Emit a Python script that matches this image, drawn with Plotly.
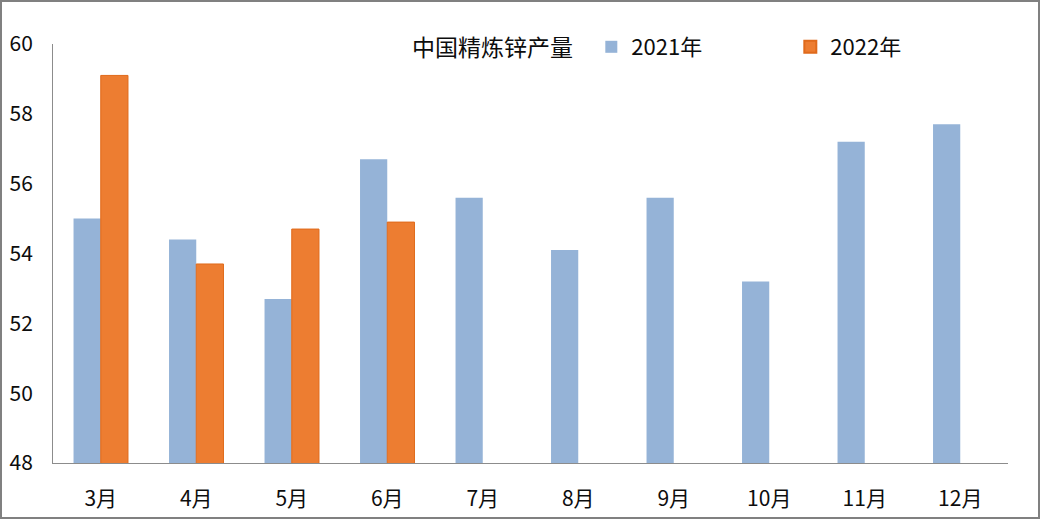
import plotly.graph_objects as go

months = ["3月", "4月", "5月", "6月", "7月", "8月", "9月", "10月", "11月", "12月"]
v2021 = [55.0, 54.4, 52.7, 56.7, 55.6, 54.1, 55.6, 53.2, 57.2, 57.7]
months2022 = ["3月", "4月", "5月", "6月"]
v2022 = [59.1, 53.7, 54.7, 54.9]
yticks = [48, 50, 52, 54, 56, 58, 60]

W, H = 1040, 519
L, R, T, B = 53, 32, 44, 56
pw, ph = W - L - R, H - T - B

fig = go.Figure()
fig.add_trace(go.Bar(name="2021年", x=months, y=v2021, marker=dict(color="#95B3D7", line=dict(width=0))))
fig.add_trace(go.Bar(name="2022年", x=months2022, y=v2022, marker=dict(color="#ED7D31", line=dict(color="#E06A1B", width=1))))

font = "Noto Sans CJK SC, Microsoft YaHei, sans-serif"
fig.update_layout(
    width=W, height=H,
    margin=dict(l=L, r=R, t=T, b=B, pad=0, autoexpand=False),
    paper_bgcolor="white", plot_bgcolor="white",
    barmode="group", bargap=0.43, bargroupgap=0,
    font=dict(family=font, size=21, color="#0d0d0d"),
    showlegend=True,
    legend=dict(
        orientation="h", x=(410 - L) / pw, xanchor="left", y=(H - B - 47) / ph, yanchor="middle",
        title=dict(text="中国精炼锌产量  ", font=dict(size=23), side="left"),
        font=dict(size=22), entrywidth=154, entrywidthmode="pixels",
        bgcolor="rgba(0,0,0,0)", itemsizing="constant",
    ),
    xaxis=dict(categoryorder="array", categoryarray=months, showline=True, linecolor="#8c8c8c", linewidth=1,
               ticks="", showgrid=False, ticklabelstandoff=17, tickfont=dict(size=21)),
    yaxis=dict(range=[48, 60], tickvals=yticks, showline=True, linecolor="#8c8c8c", linewidth=1,
               ticks="", showgrid=False, zeroline=False, ticklabelstandoff=15, tickfont=dict(size=21)),
    shapes=[dict(type="rect", xref="paper", yref="paper",
                 x0=-(L - 1) / pw, x1=1 + (R - 1) / pw, y0=-(B - 1) / ph, y1=1 + (T - 1) / ph,
                 line=dict(color="#808080", width=2), fillcolor="rgba(0,0,0,0)", layer="above")],
)
fig.write_html("out.html", config={"displayModeBar": False},
               post_script="document.body.style.margin='0';")
